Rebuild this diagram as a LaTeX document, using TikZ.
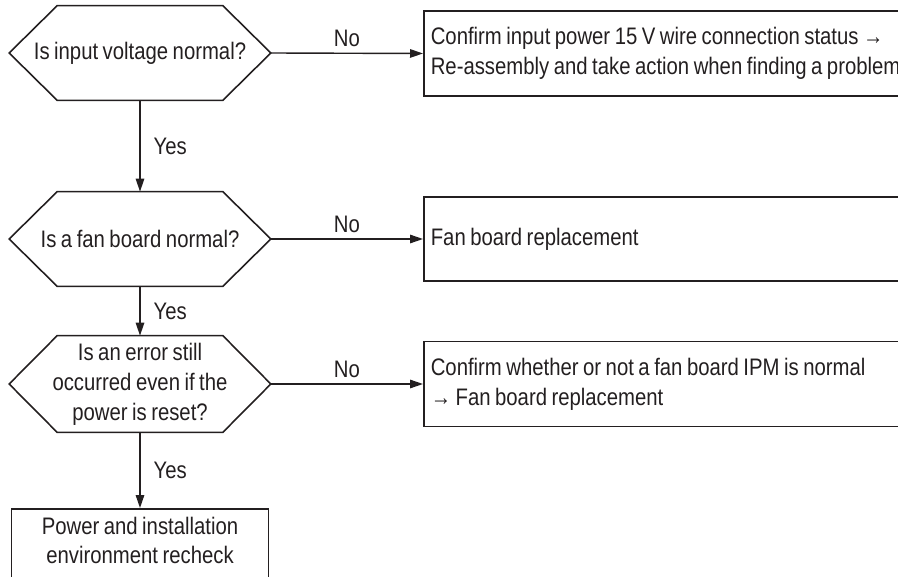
\documentclass[tikz,border=0pt]{standalone}
\usepackage{fontspec}
\setmainfont[FakeStretch=0.85, WordSpace=0.8]{Liberation Sans}
\usepackage{tikz}
\usetikzlibrary{arrows.meta, positioning}
\definecolor{flowink}{HTML}{231F20}
\newcommand{\flowfont}{\fontsize{13.6}{17}\selectfont}

\tikzset{
    decision/.style={rectangle, minimum width=5.22cm, minimum height=1.88cm,
        inner sep=0pt, align=center, font=\flowfont, text=flowink},
    hexline/.style={draw=flowink, line width=0.9pt, line join=miter},
    action/.style={draw=flowink, line width=0.9pt, rectangle, anchor=west,
        text width=11.5cm, inner xsep=0.14cm, align=flush left, font=\flowfont, text=flowink},
    flowarrow/.style={draw=flowink, line width=0.8pt, -{Triangle[length=0.26cm, width=0.17cm]}},
    answer/.style={font=\flowfont, text=flowink},
}

\begin{document}
\begin{tikzpicture}[x=0.02cm, y=-0.02cm]
    \useasboundingbox (0, 0) rectangle (898, 577);

    % Decisions
    \node[decision] (voltage) at (140, 53) {Is input voltage normal?};
    \node[decision] (fanboard) at (140, 239) {Is a fan board normal?};
    \node[decision, minimum height=1.92cm] (reset) at (140, 384) {Is an error still\\occurred even if the\\power is reset?};
    \foreach \q in {voltage, fanboard, reset}
        \draw[hexline] (\q.west) -- ([xshift=0.96cm]\q.north west) -- ([xshift=-0.96cm]\q.north east)
            -- (\q.east) -- ([xshift=-0.96cm]\q.south east) -- ([xshift=0.96cm]\q.south west) -- cycle;

    % Actions
    \node[action, minimum height=1.7cm] (wirecheck) at (423, 53.5) {Confirm input power 15 V wire connection status \textrightarrow\\Re-assembly and take action when finding a problem};
    \node[action, minimum height=1.68cm] (replace) at (423, 239) {Fan board replacement};
    \node[action, minimum height=1.7cm] (ipmcheck) at (423, 384) {Confirm whether or not a fan board IPM is normal\\\textrightarrow\ Fan board replacement};
    \node[draw=flowink, line width=0.9pt, anchor=north, text width=4.9cm, inner ysep=0.16cm,
        text depth=1cm, align=flush center, font=\flowfont, text=flowink] (recheck) at (140, 508)
        {Power and installation\\environment recheck};

    % No branches
    \draw[flowarrow] (voltage.east) -- node[answer, above] {No} (wirecheck.west);
    \draw[flowarrow] (fanboard.east) -- node[answer, above] {No} (replace.west);
    \draw[flowarrow] (reset.east) -- node[answer, above] {No} (ipmcheck.west);

    % Yes branches
    \draw[flowarrow] (voltage.south) -- node[answer, right, xshift=4] {Yes} (fanboard.north);
    \draw[flowarrow] (fanboard.south) -- node[answer, right, xshift=4] {Yes} (reset.north);
    \draw[flowarrow] (reset.south) -- node[answer, right, xshift=4] {Yes} (recheck.north);
\end{tikzpicture}
\end{document}
